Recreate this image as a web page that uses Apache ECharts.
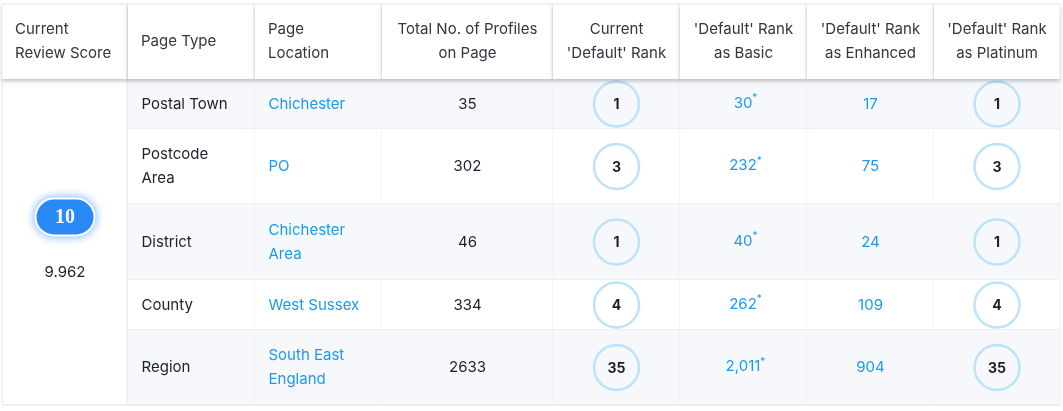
<!DOCTYPE html>
<html>
<head>
<meta charset="utf-8">
<script src="https://cdn.jsdelivr.net/npm/echarts@6/dist/echarts.min.js"></script>
<style>
html, body { margin: 0; padding: 0; background: #fff; }
#chart { width: 1063px; height: 411px; }
</style>
</head>
<body>
<div id="chart"></div>
<script>
// table data
var headers = ['Current\nReview Score', 'Page Type', 'Page\nLocation', 'Total No. of Profiles\non Page',
    'Current\n\'Default\' Rank', '\'Default\' Rank\nas Basic', '\'Default\' Rank\nas Enhanced', '\'Default\' Rank\nas Platinum'];
var pageTypes = ['Postal Town', 'Postcode\nArea', 'District', 'County', 'Region'];
var locations = ['Chichester', 'PO', 'Chichester\nArea', 'West Sussex', 'South East\nEngland'];
var totalProfiles = [35, 302, 46, 334, 2633];
var currentRank = [1, 3, 1, 4, 35];
var rankBasic = [30, 232, 40, 262, 2011];
var rankEnhanced = [17, 75, 24, 109, 904];
var rankPlatinum = [1, 3, 1, 4, 35];
var badgeScore = 10;
var reviewScore = '9.962';

// layout (px)
var colWidths = [126, 127, 127, 171, 127, 127, 127, 126];
var headerHeight = 75;
var rowHeights = [50, 75, 76, 50, 75];

var colStart = [0];
colWidths.forEach(function (w, i) { colStart.push(colStart[i] + w); });
var rowStart = [0, headerHeight];
rowHeights.forEach(function (h, i) { rowStart.push(rowStart[i + 1] + h); });
var totalW = colStart[colStart.length - 1];
var totalH = rowStart[rowStart.length - 1];

var FONT = 'Inter, "Noto Sans", sans-serif';
var DARK = '#1e1f2d';
var HEAD = '#34353f';
var BLUE = '#1b9af0';
var LINE = '#eceef3';

function fmt(n) { return n.toLocaleString('en-US'); }

// cells: body first, header last so its shadow sits over the rows
var cells = [];
cells.push({ col: 0, row: 1, rowEnd: 6, kind: 'score' });
for (var r = 0; r < pageTypes.length; r++) {
    cells.push({ col: 1, row: r + 1, kind: 'left', text: pageTypes[r], color: DARK });
    cells.push({ col: 2, row: r + 1, kind: 'left', text: locations[r], color: BLUE });
    cells.push({ col: 3, row: r + 1, kind: 'center', text: String(totalProfiles[r]), color: DARK });
    cells.push({ col: 4, row: r + 1, kind: 'circle', text: String(currentRank[r]) });
    cells.push({ col: 5, row: r + 1, kind: 'star', text: fmt(rankBasic[r]) });
    cells.push({ col: 6, row: r + 1, kind: 'center', text: fmt(rankEnhanced[r]), color: BLUE });
    cells.push({ col: 7, row: r + 1, kind: 'circle', text: String(rankPlatinum[r]) });
}
headers.forEach(function (h, i) {
    cells.push({ col: i, row: 0, kind: 'header', text: h, align: i < 3 ? 'left' : 'center' });
});

function renderItem(params, api) {
    var c = cells[params.dataIndex];
    var p0 = api.coord([colStart[c.col], rowStart[c.row]]);
    var p1 = api.coord([colStart[c.col + 1], rowStart[c.rowEnd || c.row + 1]]);
    var x0 = p0[0], y0 = p0[1], w = p1[0] - p0[0], h = p1[1] - p0[1];
    var cx = x0 + w / 2, cy = y0 + h / 2;
    var bg = '#fff';
    if (c.row > 0 && c.kind !== 'score' && c.row % 2 === 1) bg = '#f7f8fc';
    var children = [];
    children.push({
        type: 'rect',
        shape: { x: x0, y: y0, width: w, height: h },
        style: c.kind === 'header'
            ? { fill: '#fff', shadowBlur: 4, shadowOffsetY: 2, shadowColor: 'rgba(0,0,0,0.25)' }
            : { fill: bg }
    });
    // separators
    children.push({
        type: 'line',
        shape: { x1: x0 + w, y1: y0, x2: x0 + w, y2: y0 + h },
        style: { stroke: c.col === 0 ? '#eceef4' : LINE, lineWidth: c.col === 0 ? 3 : 1 }
    });
    if (c.kind !== 'header') {
        children.push({
            type: 'line',
            shape: { x1: x0, y1: y0 + h, x2: x0 + w, y2: y0 + h },
            style: { stroke: LINE, lineWidth: 2 }
        });
    }
    if (c.col === 0) {
        children.push({
            type: 'line',
            shape: { x1: x0, y1: y0, x2: x0, y2: y0 + h },
            style: { stroke: LINE, lineWidth: 1.5 }
        });
    }
    if (c.kind === 'header') {
        children.push({
            type: 'line',
            shape: { x1: x0, y1: y0, x2: x0 + w, y2: y0 },
            style: { stroke: LINE, lineWidth: 1.5 }
        });
        children.push({
            type: 'text',
            style: {
                x: c.align === 'left' ? x0 + 13 : cx, y: cy,
                text: c.text, fill: HEAD, font: '15px ' + FONT,
                align: c.align, verticalAlign: 'middle', lineHeight: 24
            }
        });
    } else if (c.kind === 'left' || c.kind === 'center') {
        children.push({
            type: 'text',
            style: {
                x: c.kind === 'left' ? x0 + 13.5 : cx, y: cy,
                text: c.text, fill: c.color, font: '15px ' + FONT,
                align: c.kind === 'left' ? 'left' : 'center', verticalAlign: 'middle', lineHeight: 24
            }
        });
    } else if (c.kind === 'circle') {
        children.push({
            type: 'circle',
            shape: { cx: cx, cy: cy, r: 22.5 },
            style: { fill: 'none', stroke: '#bde2fb', lineWidth: 2.5 }
        });
        children.push({
            type: 'text',
            style: {
                x: cx, y: cy + 1, text: c.text, fill: DARK,
                font: 'bold 14px ' + FONT, align: 'center', verticalAlign: 'middle'
            }
        });
    } else if (c.kind === 'star') {
        children.push({
            type: 'text',
            style: {
                x: cx + 2, y: cy - 1, text: '{v|' + c.text + '}{s|*}',
                align: 'center', verticalAlign: 'middle',
                rich: {
                    v: { fill: BLUE, font: '15px ' + FONT, lineHeight: 20 },
                    s: { fill: BLUE, font: '10px ' + FONT, lineHeight: 10, verticalAlign: 'top' }
                }
            }
        });
    } else if (c.kind === 'score') {
        var by = cy - 25;
        children.push({
            type: 'rect',
            shape: { x: cx - 29.5, y: by - 18.5, width: 59, height: 37, r: 18.5 },
            style: { fill: '#2a8af6', stroke: '#fff', lineWidth: 2, shadowBlur: 8, shadowColor: 'rgba(40,140,255,0.65)' }
        });
        children.push({
            type: 'text',
            style: {
                x: cx, y: by + 1, text: String(badgeScore), fill: '#fff',
                font: 'bold 20px "Liberation Serif", serif', align: 'center', verticalAlign: 'middle'
            }
        });
        children.push({
            type: 'text',
            style: {
                x: cx, y: cy + 30, text: reviewScore, fill: DARK,
                font: '15px ' + FONT, align: 'center', verticalAlign: 'middle'
            }
        });
    }
    return { type: 'group', children: children };
}

var chart = echarts.init(document.getElementById('chart'), null, { renderer: 'canvas' });
chart.setOption({
    animation: false,
    grid: { left: 2, top: 4, width: totalW, height: totalH },
    xAxis: { type: 'value', min: 0, max: totalW, show: false },
    yAxis: { type: 'value', min: 0, max: totalH, inverse: true, show: false },
    series: [{
        type: 'custom',
        renderItem: renderItem,
        clip: false,
        data: cells.map(function (c) { return [c.col, c.row]; })
    }]
});
</script>
</body>
</html>
